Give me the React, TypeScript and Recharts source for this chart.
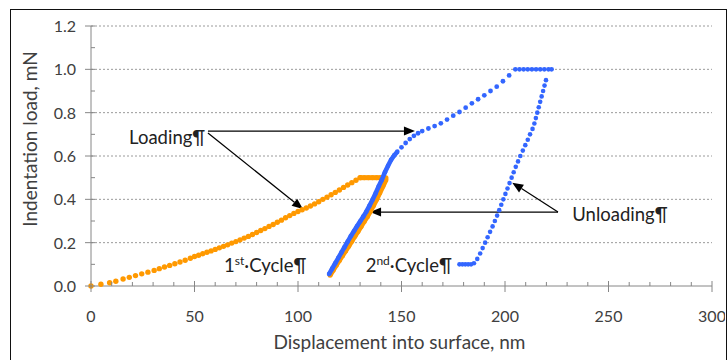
import React from 'react';
import { ScatterChart, Scatter, XAxis, YAxis, ReferenceLine, ReferenceDot } from 'recharts';

// axis ticks (minor + major); labels only on the major ones
const xTicks = [0, 10, 20, 30, 40, 50, 60, 70, 80, 90, 100, 110, 120, 130, 140, 150, 160, 170, 180, 190, 200, 210, 220, 230, 240, 250, 260, 270, 280, 290, 300];
const yTicks = [0, 0.1, 0.2, 0.3, 0.4, 0.5, 0.6, 0.7, 0.8, 0.9, 1.0, 1.1, 1.2];
const gridLevels = [0.2, 0.4, 0.6, 0.8, 1.0, 1.2];

// 1st cycle (orange): [displacement nm, load mN]
const cycle1Loading: [number, number][] = [
  [0, 0], [4.8, 0.008], [9, 0.015], [12, 0.022], [15.5, 0.032], [18.5, 0.04], [21.5, 0.048], [24.5, 0.056],
  [27.5, 0.064], [30.5, 0.072], [33, 0.08], [35.5, 0.088], [38, 0.095], [40.5, 0.103], [43, 0.111], [45.5, 0.119],
  [48, 0.128], [50, 0.136], [52, 0.142], [54, 0.149], [56, 0.156], [58, 0.162], [60, 0.169], [62, 0.176],
  [64, 0.183], [66, 0.19], [68, 0.198], [70, 0.205], [72, 0.213], [74, 0.221], [76, 0.229], [78, 0.238],
  [80, 0.247], [82, 0.256], [84, 0.265], [86, 0.275], [88, 0.284], [90, 0.294], [92, 0.304], [94, 0.315],
  [96, 0.325], [98, 0.335], [100, 0.344], [102, 0.352], [104, 0.36], [106, 0.369], [108, 0.379], [110, 0.389],
  [112, 0.4], [114, 0.41], [116, 0.421], [118, 0.432], [120, 0.443], [122, 0.455], [124, 0.466], [126, 0.477],
  [128, 0.488], [130, 0.5],
];
const cycle1Hold: [number, number][] = [
  [130, 0.5], [132, 0.5], [134, 0.5], [136, 0.5], [138, 0.5], [140, 0.5], [142.5, 0.5],
];
const cycle1Unloading: [number, number][] = [
  [142.5, 0.49], [141, 0.46], [139.5, 0.43], [138, 0.4], [136.5, 0.372], [135, 0.345], [133.5, 0.32],
  [132, 0.298], [130.5, 0.275], [129, 0.252], [127.5, 0.23], [126, 0.207], [124.5, 0.184], [123, 0.162],
  [121.5, 0.14], [120, 0.118], [118.5, 0.096], [117, 0.073], [115.5, 0.05],
];

// 2nd cycle (blue)
const cycle2LoadingLower: [number, number][] = [
  [115, 0.055], [116.5, 0.08], [118, 0.105], [119.5, 0.13], [121, 0.155], [122.5, 0.18], [124, 0.205],
  [125.5, 0.23], [127, 0.253], [128.5, 0.276], [130, 0.298], [131.5, 0.32], [133, 0.343], [134.5, 0.37],
  [136, 0.398], [137.5, 0.428], [139, 0.46], [140.5, 0.49], [142, 0.525], [143.5, 0.555], [145, 0.583],
  [146.5, 0.603], [148, 0.62],
];
const cycle2LoadingUpper: [number, number][] = [
  [150, 0.64], [152, 0.66], [154, 0.678], [156, 0.693], [158, 0.705], [160, 0.715], [163, 0.727],
  [166, 0.738], [169, 0.751], [172, 0.768], [175, 0.786], [178, 0.803], [181, 0.823], [184, 0.843],
  [187, 0.862], [190, 0.88], [193, 0.9], [196, 0.92], [199, 0.945], [202, 0.972], [205, 1.0],
];
const cycle2Hold: [number, number][] = [
  [207, 1.0], [209, 1.0], [211, 1.0], [213, 1.0], [215, 1.0], [217, 1.0], [219, 1.0], [221, 1.0], [222.5, 1.0],
];
const cycle2Unloading: [number, number][] = [
  [219.8, 0.95], [219.1, 0.925], [218.4, 0.9], [217.7, 0.875], [217.0, 0.85], [216.3, 0.825], [215.6, 0.8],
  [214.9, 0.775], [214.2, 0.75], [213.3, 0.725], [212.1, 0.7], [211.0, 0.675], [209.8, 0.65], [208.6, 0.625],
  [207.4, 0.6], [206.3, 0.575], [205.2, 0.55], [204.2, 0.525], [203.2, 0.5], [202.2, 0.475], [201.2, 0.45],
  [200.2, 0.425], [199.2, 0.4], [198.2, 0.375], [197.2, 0.35], [196.2, 0.325], [195.1, 0.3], [194.0, 0.275],
  [192.8, 0.25], [191.6, 0.225], [190.4, 0.2], [189.2, 0.175], [188.0, 0.15], [186.6, 0.125], [185.0, 0.105],
  [183.6, 0.1], [182.2, 0.1], [180.8, 0.1], [179.4, 0.1], [178.0, 0.1],
];

const toPoints = (arr: [number, number][]) => arr.map(([x, y]) => ({ x, y }));

const ORANGE = '#ff9900';
const BLUE = '#3366ff';
const AXIS = '#868686';
const TEXT = '#404040';
const FONT = 'Lato, sans-serif';

const XTick = (props: any) => {
  const { x, y, payload } = props;
  const v = payload.value;
  const major = v % 50 === 0;
  return (
    <g>
      <line x1={x} x2={x} y1={major ? y - 5 : y - 4} y2={major ? y + 6 : y} stroke={AXIS} />
      {major && (
        <text x={x} y={y + 36} textAnchor="middle" fontSize={16} fill={TEXT} fontFamily={FONT}>{v}</text>
      )}
    </g>
  );
};

const YTick = (props: any) => {
  const { x, y, payload } = props;
  const v = payload.value;
  const major = Math.round(v * 10) % 2 === 0;
  return (
    <g>
      <line x1={major ? x - 6 : x} x2={x + 4} y1={y} y2={y} stroke={AXIS} />
      {major && (
        <text x={x - 15} y={y + 6} textAnchor="end" fontSize={16} fill={TEXT} fontFamily={FONT}>{v.toFixed(1)}</text>
      )}
    </g>
  );
};

const Arrow = (p: any) => {
  const { x1, y1, x2, y2 } = p;
  const dx = x2 - x1;
  const dy = y2 - y1;
  const len = Math.sqrt(dx * dx + dy * dy);
  const ux = dx / len;
  const uy = dy / len;
  const hl = 11;
  const hw = 4.5;
  const bx = x2 - ux * hl;
  const by = y2 - uy * hl;
  return (
    <g>
      <line x1={x1} y1={y1} x2={bx} y2={by} stroke="#000" strokeWidth={1.2} />
      <polygon
        points={`${x2},${y2} ${bx - uy * hw},${by + ux * hw} ${bx + uy * hw},${by - ux * hw}`}
        fill="#000"
      />
    </g>
  );
};

const note = (content: React.ReactNode) => (p: any) => (
  <text x={p.cx} y={p.cy} dy={6} fontSize={18.5} fill="#222" fontFamily={FONT}>{content}</text>
);

const cycleLabel = (num: string, sup: string) => (
  <>
    <tspan>{num}</tspan>
    <tspan dy={-7} fontSize={12}>{sup}</tspan>
    <tspan dy={7}>·Cycle¶</tspan>
  </>
);

const dot = (color: string, r: number) => (p: any) => <circle cx={p.cx} cy={p.cy} r={r} fill={color} />;

export default function App() {
  return (
    <div style={{ position: 'fixed', left: 0, top: 0, width: 727, height: 360, overflow: 'hidden', background: '#fff' }}>
      <div style={{ position: 'absolute', left: 0, top: 0, width: 725, height: 360, overflow: 'hidden' }}>
        <ScatterChart width={727} height={360} margin={{ top: 26, right: 15, left: 31, bottom: 0 }}>
          <XAxis
            type="number"
            dataKey="x"
            domain={[0, 300]}
            ticks={xTicks}
            interval={0}
            height={74}
            tickSize={0}
            tickMargin={0}
            tickLine={false}
            axisLine={{ stroke: AXIS }}
            tick={<XTick />}
            label={{
              content: (props: any) => {
                const vb = props.viewBox;
                return (
                  <text x={vb.x + vb.width / 2 - 2} y={vb.y + 63} textAnchor="middle" fontSize={19} fill={TEXT} fontFamily={FONT}>
                    Displacement into surface, nm
                  </text>
                );
              },
            }}
          />
          <YAxis
            type="number"
            dataKey="y"
            domain={[0, 1.2]}
            ticks={yTicks}
            interval={0}
            width={60}
            tickSize={0}
            tickMargin={0}
            tickLine={false}
            axisLine={{ stroke: AXIS }}
            tick={<YTick />}
            label={{
              content: (props: any) => {
                const vb = props.viewBox;
                const cx = vb.x + 6;
                const cy = vb.y + vb.height / 2 - 17;
                return (
                  <text x={cx} y={cy} transform={`rotate(-90 ${cx} ${cy})`} textAnchor="middle" fontSize={19} fill={TEXT} fontFamily={FONT}>
                    Indentation load, mN
                  </text>
                );
              },
            }}
          />
          {gridLevels.map((v) => (
            <ReferenceLine key={v} y={v} stroke="#9a9a9a" strokeDasharray="2 2" />
          ))}

          <Scatter data={toPoints(cycle1Loading)} shape={dot(ORANGE, 2.7)} isAnimationActive={false} />
          <Scatter data={toPoints(cycle1Hold)} line={{ stroke: ORANGE, strokeWidth: 5 }} shape={dot(ORANGE, 2.5)} isAnimationActive={false} />
          <Scatter data={toPoints(cycle1Unloading)} line={{ stroke: ORANGE, strokeWidth: 5 }} shape={dot(ORANGE, 2.5)} isAnimationActive={false} />

          <Scatter data={toPoints(cycle2LoadingLower)} line={{ stroke: BLUE, strokeWidth: 4.6 }} shape={dot(BLUE, 2.3)} isAnimationActive={false} />
          <Scatter data={toPoints(cycle2LoadingUpper)} shape={dot(BLUE, 2.4)} isAnimationActive={false} />
          <Scatter data={toPoints(cycle2Hold)} shape={dot(BLUE, 2.4)} isAnimationActive={false} />
          <Scatter data={toPoints(cycle2Unloading)} shape={dot(BLUE, 2.3)} isAnimationActive={false} />

          <ReferenceLine segment={[{ x: 56.5, y: 0.715 }, { x: 156.5, y: 0.715 }]} shape={Arrow} />
          <ReferenceLine segment={[{ x: 56.5, y: 0.706 }, { x: 102.4, y: 0.355 }]} shape={Arrow} />
          <ReferenceLine segment={[{ x: 225.6, y: 0.341 }, { x: 134.8, y: 0.341 }]} shape={Arrow} />
          <ReferenceLine segment={[{ x: 225.6, y: 0.341 }, { x: 203.5, y: 0.477 }]} shape={Arrow} />

          <ReferenceDot x={18.4} y={0.685} r={0} shape={note('Loading¶')} />
          <ReferenceDot x={232.5} y={0.328} r={0} shape={note('Unloading¶')} />
          <ReferenceDot x={64.3} y={0.094} r={0} shape={note(cycleLabel('1', 'st'))} />
          <ReferenceDot x={132.7} y={0.094} r={0} shape={note(cycleLabel('2', 'nd'))} />
        </ScatterChart>
      </div>
      <div
        style={{
          position: 'absolute',
          left: 10,
          top: 9,
          width: 717,
          height: 400,
          boxSizing: 'border-box',
          border: '1.5px solid #111',
          pointerEvents: 'none',
        }}
      />
    </div>
  );
}
